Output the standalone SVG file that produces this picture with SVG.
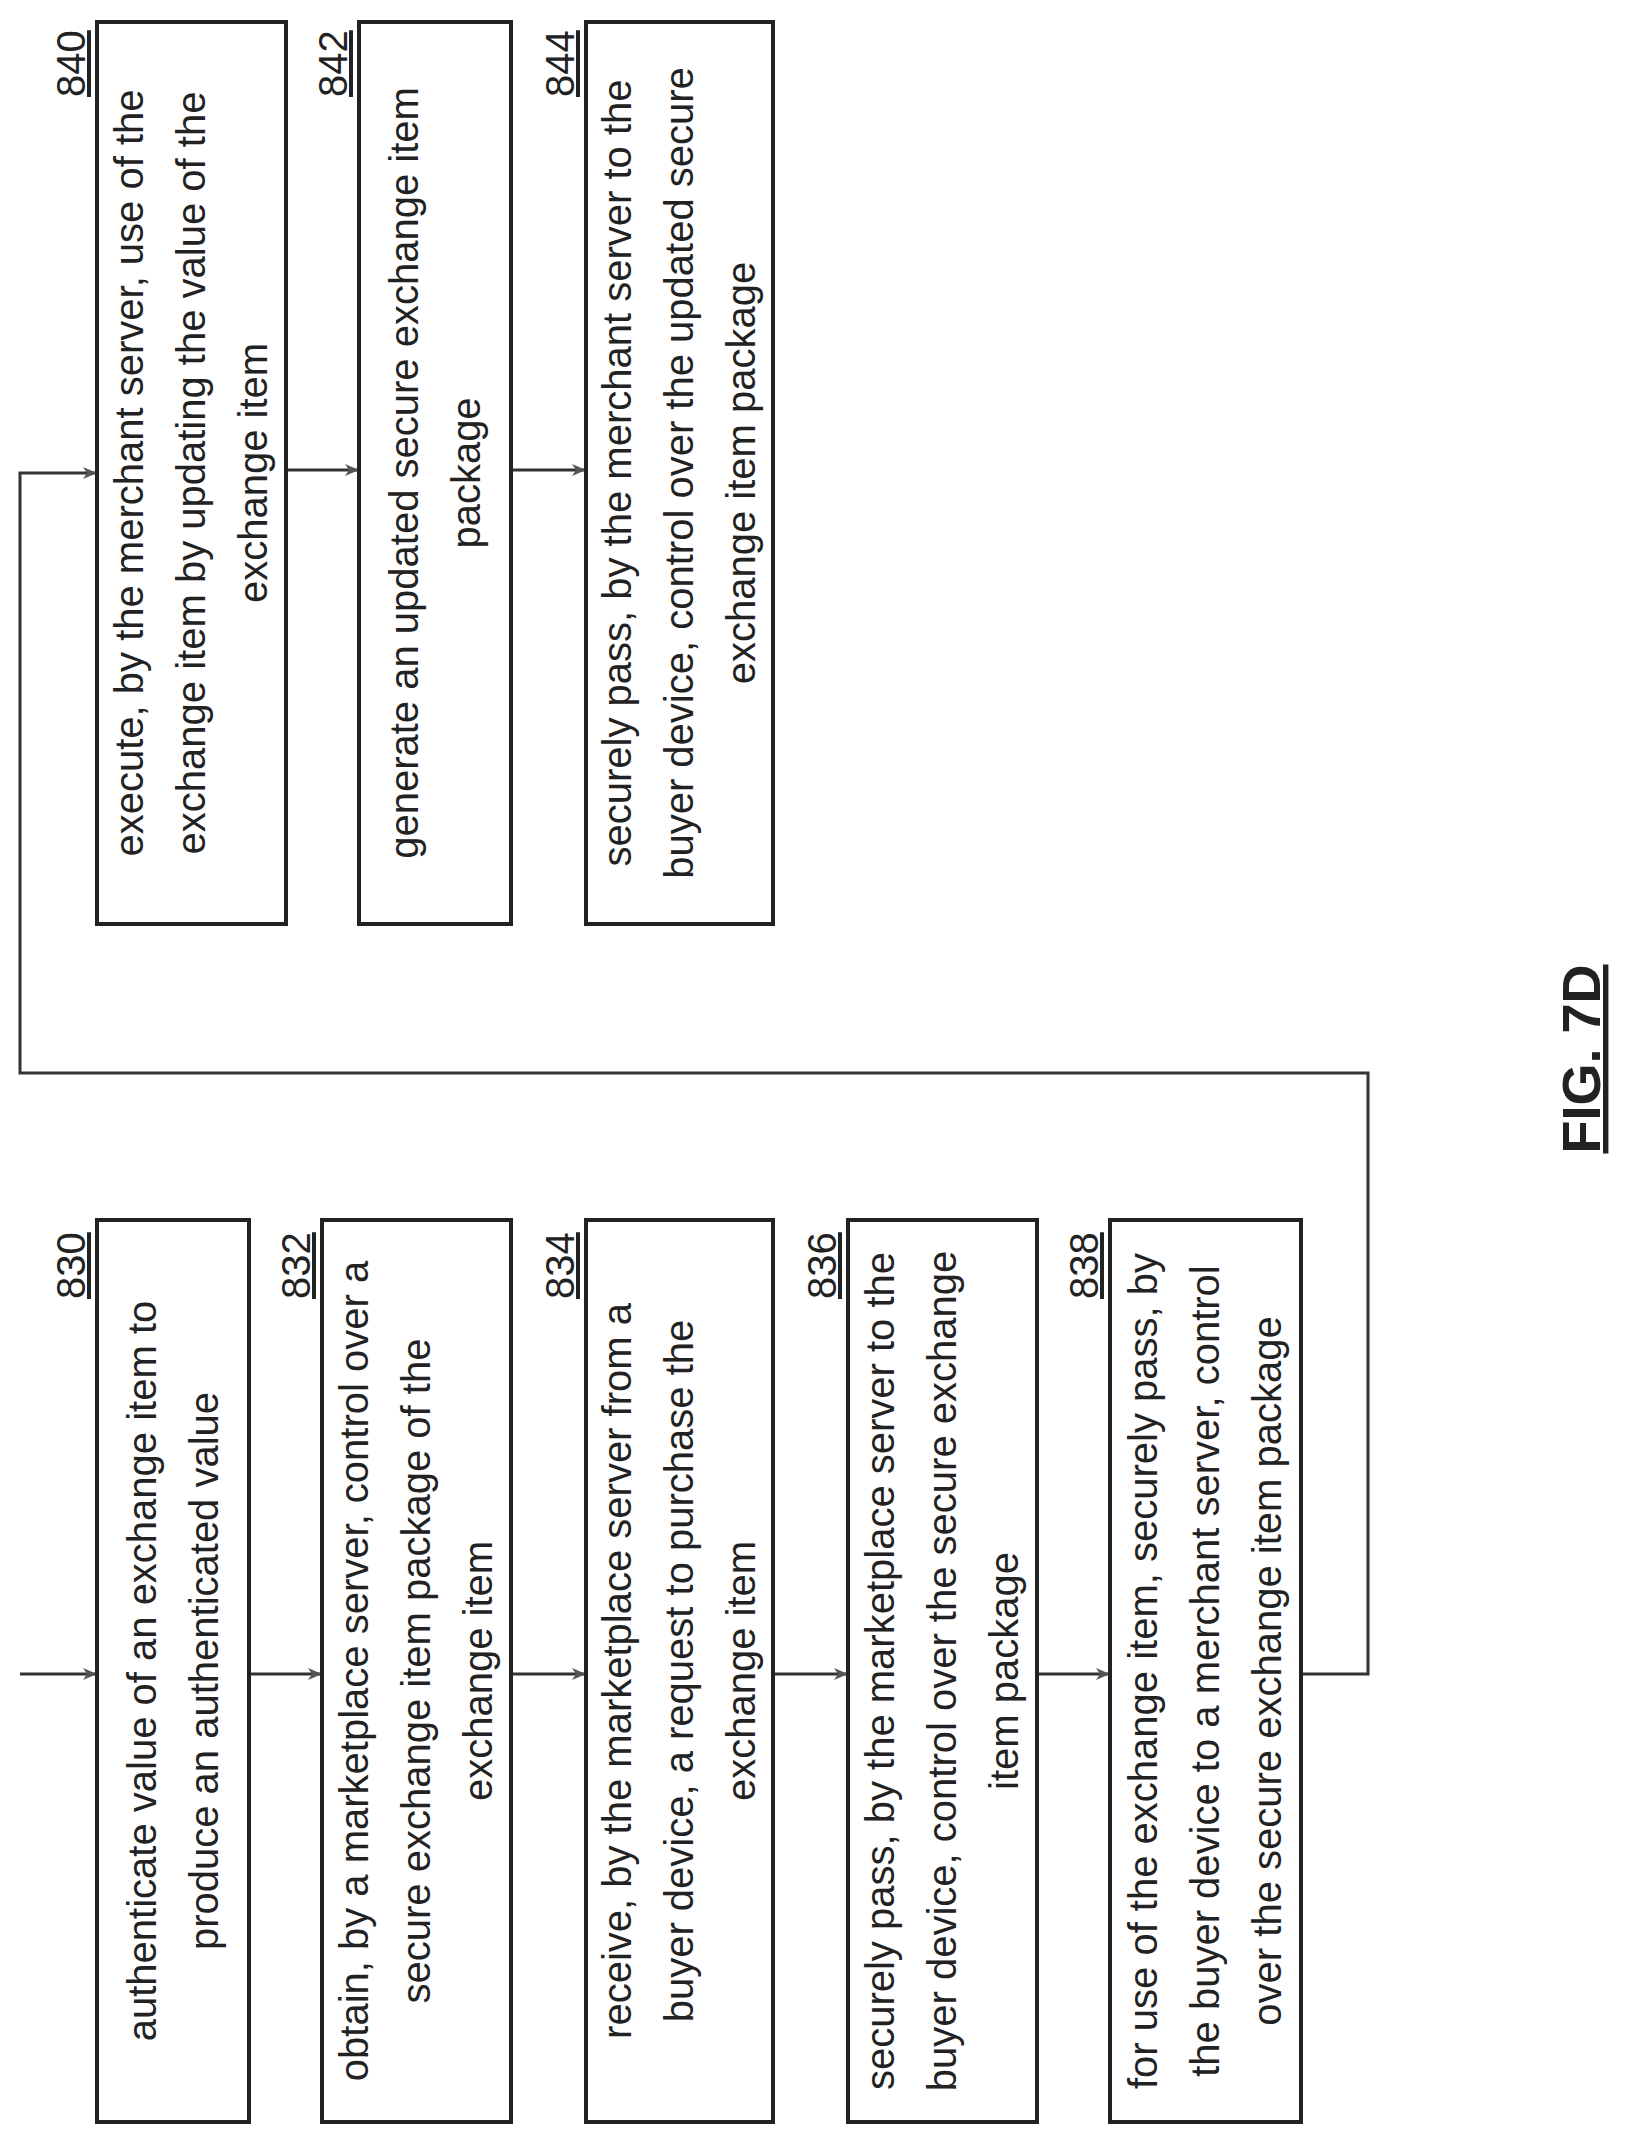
<svg xmlns="http://www.w3.org/2000/svg" width="1632" height="2146" viewBox="0 0 1632 2146">
<style>
.box{fill:#fff;stroke:#222;stroke-width:4}
.t{font-family:"Liberation Sans",Arial,sans-serif;font-size:40px;fill:#222;text-anchor:middle}
.lb{font-family:"Liberation Sans",Arial,sans-serif;font-size:40px;fill:#222;text-decoration:underline}
.c{fill:none;stroke:#333;stroke-width:3}
</style>
<defs>
<marker id="ah" markerWidth="14" markerHeight="12" refX="13" refY="6" orient="auto" markerUnits="userSpaceOnUse" viewBox="0 0 14 12">
<path d="M0,0 L14,6 L0,12 L4,6 z" fill="#555"/>
</marker>
</defs>
<rect width="1632" height="2146" fill="#fff"/>
<g id="connectors">
<line class="c" x1="20" y1="1674" x2="96" y2="1674" marker-end="url(#ah)"/>
<line class="c" x1="249" y1="1674" x2="321" y2="1674" marker-end="url(#ah)"/>
<line class="c" x1="511" y1="1674" x2="585" y2="1674" marker-end="url(#ah)"/>
<line class="c" x1="773" y1="1674" x2="847" y2="1674" marker-end="url(#ah)"/>
<line class="c" x1="1037" y1="1674" x2="1109" y2="1674" marker-end="url(#ah)"/>
<polyline class="c" points="1301,1674 1368,1674 1368,1073 20,1073 20,473 96,473" marker-end="url(#ah)"/>
<line class="c" x1="286" y1="470" x2="358" y2="470" marker-end="url(#ah)"/>
<line class="c" x1="511" y1="470" x2="585" y2="470" marker-end="url(#ah)"/>
</g>
<g id="n830"><rect class="box" x="97" y="1220" width="152" height="902"/>
<text class="lb" transform="translate(85,1299) rotate(-90)">830</text>
<text class="t" transform="translate(173,1671) rotate(-90)"><tspan x="0" y="-17">authenticate value of an exchange item to</tspan><tspan x="0" y="45">produce an authenticated value</tspan></text></g>
<g id="n832"><rect class="box" x="322" y="1220" width="189" height="902"/>
<text class="lb" transform="translate(310,1299) rotate(-90)">832</text>
<text class="t" transform="translate(416,1671) rotate(-90)"><tspan x="0" y="-48">obtain, by a marketplace server, control over a</tspan><tspan x="0" y="14">secure exchange item package of the</tspan><tspan x="0" y="76">exchange item</tspan></text></g>
<g id="n834"><rect class="box" x="586" y="1220" width="187" height="902"/>
<text class="lb" transform="translate(574,1299) rotate(-90)">834</text>
<text class="t" transform="translate(679,1671) rotate(-90)"><tspan x="0" y="-48">receive, by the marketplace server from a</tspan><tspan x="0" y="14">buyer device, a request to purchase the</tspan><tspan x="0" y="76">exchange item</tspan></text></g>
<g id="n836"><rect class="box" x="848" y="1220" width="189" height="902"/>
<text class="lb" transform="translate(836,1299) rotate(-90)">836</text>
<text class="t" transform="translate(942,1671) rotate(-90)"><tspan x="0" y="-48">securely pass, by the marketplace server to the</tspan><tspan x="0" y="14">buyer device, control over the secure exchange</tspan><tspan x="0" y="76">item package</tspan></text></g>
<g id="n838"><rect class="box" x="1110" y="1220" width="191" height="902"/>
<text class="lb" transform="translate(1098,1299) rotate(-90)">838</text>
<text class="t" transform="translate(1205,1671) rotate(-90)"><tspan x="0" y="-48">for use of the exchange item, securely pass, by</tspan><tspan x="0" y="14">the buyer device to a merchant server, control</tspan><tspan x="0" y="76">over the secure exchange item package</tspan></text></g>
<g id="n840"><rect class="box" x="97" y="22" width="189" height="902"/>
<text class="lb" transform="translate(85,97) rotate(-90)">840</text>
<text class="t" transform="translate(191,473) rotate(-90)"><tspan x="0" y="-48">execute, by the merchant server, use of the</tspan><tspan x="0" y="14">exchange item by updating  the value of the</tspan><tspan x="0" y="76">exchange item</tspan></text></g>
<g id="n842"><rect class="box" x="359" y="22" width="152" height="902"/>
<text class="lb" transform="translate(347,97) rotate(-90)">842</text>
<text class="t" transform="translate(435,473) rotate(-90)"><tspan x="0" y="-17">generate an updated secure exchange item</tspan><tspan x="0" y="45">package</tspan></text></g>
<g id="n844"><rect class="box" x="586" y="22" width="187" height="902"/>
<text class="lb" transform="translate(574,97) rotate(-90)">844</text>
<text class="t" transform="translate(679,473) rotate(-90)"><tspan x="0" y="-48">securely pass, by the merchant server to the</tspan><tspan x="0" y="14">buyer device, control over the updated secure</tspan><tspan x="0" y="76">exchange item package</tspan></text></g>
<text transform="translate(1600,1059) rotate(-90)" font-family="Liberation Sans,Arial,sans-serif" font-size="54" font-weight="bold" text-anchor="middle" text-decoration="underline" fill="#222">FIG. 7D</text>
</svg>
